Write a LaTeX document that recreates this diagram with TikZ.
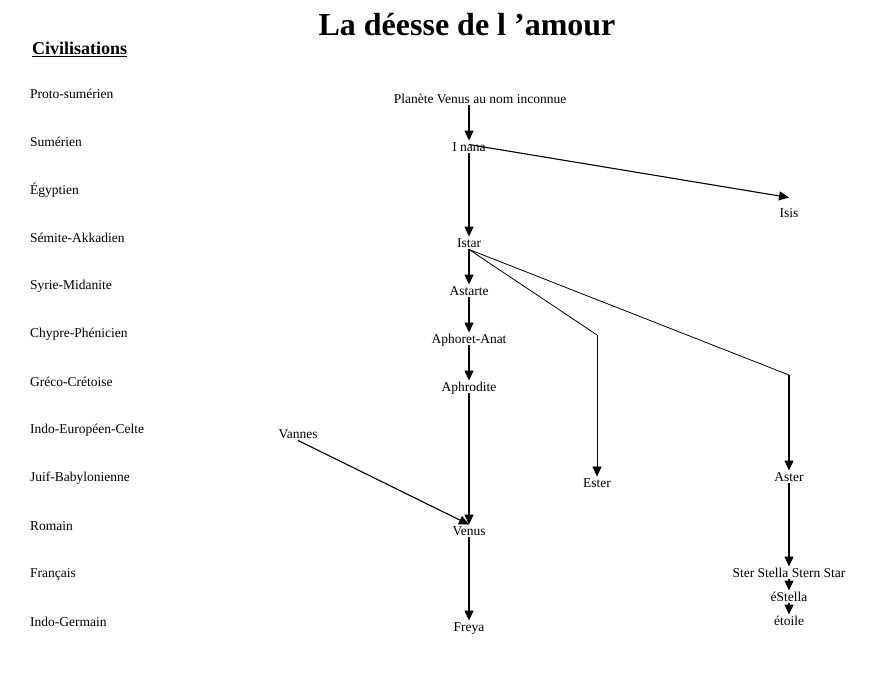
\documentclass[tikz,border=0pt]{standalone}
\usepackage{fontspec}
\setmainfont{Liberation Serif}
\usetikzlibrary{arrows.meta}
\tikzset{
	civ/.style={anchor=west, inner sep=0pt, font=\fontsize{13.5}{15}\selectfont},
	dieu/.style={inner sep=0pt, text height=11pt, text depth=1.5pt, font=\fontsize{13.5}{15}\selectfont},
	fleche/.style={line width=1.1pt, -{Triangle[length=10pt,width=9pt]}},
	branche/.style={line width=0.8pt}
}

\begin{document}
\begin{tikzpicture}[x=1pt, y=-1pt]
			%%%%% START %%%%%
			\useasboundingbox (0, 0) rectangle (894, 679);
			
			\node[font=\fontsize{32}{36}\selectfont\bfseries] (titre) at (467, 25) {La déesse de l ’amour};
			\node[anchor=west, inner sep=0pt, font=\fontsize{18}{20}\selectfont\bfseries] (civilisations) at (32, 49) {\underline{Civilisations}};
			
			\foreach \nom [count=\i] in {Proto-sumérien, Sumérien, Égyptien, Sémite-Akkadien, Syrie-Midanite, Chypre-Phénicien, Gréco-Crétoise, Indo-Européen-Celte, Juif-Babylonienne, Romain, Français, Indo-Germain}
				\node[civ] (civ\i) at (30, 46+48*\i) {\nom};
			
			\node[dieu] (planete) at (480, 99) {Planète Venus au nom inconnue};
			\node[dieu] (inana) at (469, 147) {I nana};
			\node[dieu] (isis) at (789, 213) {Isis};
			\node[dieu] (istar) at (469, 243) {Istar};
			\node[dieu] (astarte) at (469, 291) {Astarte};
			\node[dieu] (anat) at (469, 339) {Aphoret-Anat};
			\node[dieu] (aphrodite) at (469, 387) {Aphrodite};
			\node[dieu] (vannes) at (298, 434) {Vannes};
			\node[dieu] (ester) at (597, 483) {Ester};
			\node[dieu] (aster) at (789, 477) {Aster};
			\node[dieu] (venus) at (469, 531) {Venus};
			\node[dieu] (ster) at (789, 573) {Ster Stella Stern Star};
			\node[dieu] (estella) at (789, 597) {éStella};
			\node[dieu] (etoile) at (789, 621) {étoile};
			\node[dieu] (freya) at (469, 627) {Freya};
			
			\coordinate (esterbend) at (597, 335);
			\coordinate (asterbend) at (789, 375);
			
			%%%%% colonne principale
			\draw[fleche] (planete.south -| inana.north) -- (inana.north);
			\draw[fleche] (inana.south) -- (istar.north);
			\draw[fleche] (istar.south) -- (astarte.north);
			\draw[fleche] (astarte.south) -- (anat.north);
			\draw[fleche] (anat.south) -- (aphrodite.north);
			\draw[fleche] (aphrodite.south) -- (venus.north);
			\draw[fleche] (venus.south) -- (freya.north);
			
			%%%%% branches
			\draw[fleche] ([yshift=-4pt]inana.north) -- ([yshift=9pt]isis.north);
			\draw[branche] (istar.south) -- (esterbend);
			\draw[fleche, line width=0.8pt] (esterbend) -- (ester.north);
			\draw[branche] (istar.south) -- (asterbend);
			\draw[fleche] (asterbend) -- (aster.north);
			\draw[fleche] (vannes.south) -- (venus.north);
			
			\draw[fleche] (aster.south) -- (ster.north);
			\draw[fleche] (ster.south) -- (estella.north);
			\draw[fleche] (estella.south) -- (etoile.north);
			
			%%%%% END %%%%%
\end{tikzpicture}
\end{document}
